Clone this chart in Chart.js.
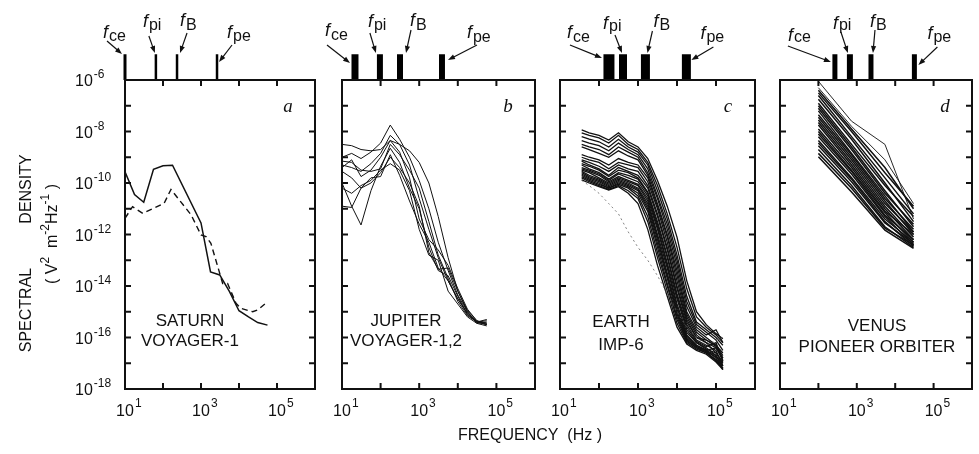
<!DOCTYPE html>
<html><head><meta charset="utf-8">
<script src="https://cdn.jsdelivr.net/npm/chart.js@4.4.1/dist/chart.umd.min.js"></script>
<style>
html,body{margin:0;padding:0;background:#fff;width:979px;height:454px;overflow:hidden}
canvas{position:absolute;left:0;top:0}
</style></head><body>
<canvas id="ca" width="979" height="454"></canvas>
<canvas id="cb" width="979" height="454"></canvas>
<canvas id="cc" width="979" height="454"></canvas>
<canvas id="cd" width="979" height="454"></canvas>
<script>
// ---------------- DATA (densities stored as log10 of V^2 m^-2 Hz^-1) ----------------
const yTickExps = [-17,-16,-15,-14,-13,-12,-11,-10,-9,-8,-7];
const yLabelExps = [-6,-8,-10,-12,-14,-16,-18];
const xTickExps = [2,3,4,5];
const xLabelExps = [1,3,5];
const markerNames = ['ce','pi','B','pe'];

// a: Saturn, Voyager-1
const saturnSolidFreq = [10, 17.8, 31.1, 56.2, 100, 178, 1000, 1780, 3110, 5620, 10000, 17800, 31100, 56200];
const saturnSolid     = [-9.56, -10.45, -10.75, -9.47, -9.33, -9.31, -11.55, -13.45, -13.57, -14.22, -14.96, -15.2, -15.42, -15.52];
const saturnDashFreq  = [10, 15.8, 29.5, 107, 162, 550, 1000, 1350, 1820, 3720, 5010, 8320, 11200, 22900, 30900, 47900];
const saturnDashed    = [-11.37, -10.92, -11.18, -10.79, -10.25, -11.24, -12.02, -12.08, -12.34, -13.9, -13.9, -14.67, -14.87, -15.0, -14.93, -14.7];
const saturnMarkers   = [10, 65, 234, 2640];

// b: Jupiter, Voyager-1,2
const voyagerFreq = [10, 17.8, 31.1, 56.2, 100, 178, 311, 562, 1000, 1780, 3110, 5620, 10000, 17800, 31100, 56200];
const jupiterSpectra = [
 [-8.5, -8.55, -8.7, -8.75, -8.7, -8.35, -8.5, -8.75, -9.2, -10.0, -11.3, -12.9, -14.2, -14.95, -15.35, -15.45],
 [-9.0, -8.85, -9.05, -8.8, -8.45, -7.75, -8.3, -9.0, -9.9, -11.0, -12.3, -13.4, -14.35, -15.0, -15.4, -15.5],
 [-9.3, -9.4, -9.55, -9.25, -8.85, -8.15, -8.5, -9.3, -10.6, -11.8, -12.9, -13.8, -14.5, -15.05, -15.4, -15.35],
 [-9.4, -9.1, -9.75, -9.5, -9.0, -8.35, -8.8, -9.8, -11.4, -12.2, -12.6, -13.2, -14.1, -14.9, -15.35, -15.5],
 [-10.0, -10.9, -11.63, -10.3, -9.35, -8.65, -9.2, -10.2, -11.0, -12.5, -13.4, -13.6, -14.4, -15.1, -15.4, -15.45],
 [-9.55, -9.8, -10.2, -10.0, -9.6, -9.0, -9.4, -10.0, -10.9, -12.7, -13.35, -13.3, -14.2, -15.0, -15.45, -15.4],
 [-10.2, -10.4, -10.1, -9.9, -9.5, -9.25, -9.5, -10.3, -11.8, -12.8, -13.0, -14.2, -14.7, -15.2, -15.45, -15.55],
 [-10.9, -10.95, -10.2, -9.8, -9.75, -8.9, -9.7, -10.7, -11.6, -12.3, -13.3, -13.8, -14.5, -15.1, -15.4, -15.3],
 [-9.15, -9.2, -9.5, -9.55, -9.45, -8.5, -8.9, -9.5, -10.2, -11.5, -12.8, -13.7, -14.6, -15.15, -15.4, -15.5]
];
const jupiterMarkers = [21.7, 96, 318, 3890];

// c: Earth, IMP-6
const earthFreq = [36, 56, 100, 178, 316, 562, 1000, 1780, 3160, 5620, 10000, 17800, 31600, 56200, 100000, 150000];
const earthSpectra = [
 [-7.94,-8.05,-8.15,-8.33,-8.05,-8.4,-8.6,-9.05,-9.9,-10.9,-12.1,-13.8,-15.0,-15.5,-15.85,-16.05],
 [-8.05,-8.15,-8.25,-8.45,-8.15,-8.5,-8.7,-9.2,-10.1,-11.2,-12.5,-14.1,-15.2,-15.6,-15.9,-16.2],
 [-8.2,-8.3,-8.4,-8.6,-8.3,-8.6,-8.8,-9.3,-10.3,-11.4,-12.8,-14.4,-15.4,-15.7,-16.0,-16.3],
 [-8.35,-8.45,-8.55,-8.75,-8.45,-8.7,-8.9,-9.45,-10.5,-11.6,-13.0,-14.6,-15.5,-15.8,-16.1,-16.5],
 [-8.5,-8.6,-8.7,-8.9,-8.6,-8.8,-9.0,-9.6,-10.6,-11.8,-13.2,-14.8,-15.6,-15.9,-15.7,-16.2],
 [-8.6,-8.7,-8.85,-9.0,-8.75,-8.95,-9.1,-9.7,-10.8,-12.0,-13.4,-15.0,-15.7,-16.0,-16.3,-16.6],
 [-8.9,-9.0,-9.1,-9.3,-9.05,-9.2,-9.3,-9.8,-10.9,-12.1,-13.6,-15.1,-15.8,-16.1,-16.3,-16.7],
 [-9.0,-9.1,-9.2,-9.45,-9.2,-9.3,-9.4,-9.95,-11.0,-12.3,-13.8,-15.2,-15.9,-16.2,-16.4,-16.9],
 [-9.1,-9.2,-9.35,-9.55,-9.3,-9.45,-9.55,-10.1,-11.2,-12.5,-14.0,-15.3,-16.0,-16.1,-16.35,-16.8],
 [-9.15,-9.3,-9.45,-9.7,-9.4,-9.55,-9.7,-10.2,-11.3,-12.6,-14.1,-15.4,-16.0,-16.2,-16.6,-17.0],
 [-9.25,-9.35,-9.5,-9.75,-9.5,-9.6,-9.8,-10.35,-11.5,-12.8,-14.3,-15.5,-16.1,-16.3,-16.5,-17.1],
 [-9.3,-9.45,-9.6,-9.85,-9.6,-9.7,-9.85,-10.4,-11.6,-12.9,-14.4,-15.6,-16.15,-16.35,-16.2,-16.9],
 [-9.4,-9.5,-9.65,-9.9,-9.65,-9.8,-9.95,-10.5,-11.7,-13.1,-14.5,-15.7,-16.2,-16.4,-16.7,-17.2],
 [-9.45,-9.55,-9.7,-9.95,-9.75,-9.9,-10.05,-10.6,-11.8,-13.2,-14.7,-15.8,-16.2,-16.45,-16.6,-16.95],
 [-9.5,-9.6,-9.8,-10.0,-9.8,-9.95,-10.1,-10.7,-12.0,-13.3,-14.8,-15.9,-16.3,-16.5,-16.8,-17.25],
 [-9.55,-9.7,-9.85,-10.05,-9.85,-10.0,-10.2,-10.8,-12.1,-13.5,-14.9,-15.95,-16.3,-16.5,-16.7,-17.1],
 [-9.6,-9.75,-9.9,-10.1,-9.9,-10.05,-10.25,-10.9,-12.2,-13.6,-15.0,-16.0,-16.35,-16.55,-16.9,-17.2],
 [-9.65,-9.8,-9.95,-10.15,-9.95,-10.1,-10.3,-11.0,-12.35,-13.7,-15.1,-16.05,-16.35,-16.5,-16.4,-16.8],
 [-9.7,-9.85,-10.0,-10.2,-10.0,-10.15,-10.4,-11.1,-12.5,-13.9,-15.2,-16.1,-16.4,-16.55,-16.75,-17.0],
 [-9.75,-9.9,-10.05,-10.2,-10.05,-10.2,-10.5,-11.3,-12.7,-14.0,-15.3,-16.15,-16.4,-16.6,-16.9,-17.2],
 [-9.8,-9.95,-10.1,-10.25,-10.1,-10.3,-10.6,-11.5,-12.9,-14.2,-15.45,-16.2,-16.45,-16.6,-16.85,-17.1],
 [-9.88,-10.0,-10.14,-10.27,-10.14,-10.4,-10.8,-11.8,-13.2,-14.4,-15.6,-16.25,-16.5,-16.65,-16.95,-17.25]
];
const earthFaint = [
 [null,-7.65,-7.8,-8.0,-7.95,-8.3,-8.5,-9.0,-9.8,-10.7,-11.9,-13.5,-14.9,-15.4,-15.3,-15.9],
 [-9.9,-10.1,-10.4,-10.8,-11.2,-11.9,-12.5,-13.0,-13.6,-14.3,-15.0,-15.6,-16.0,-16.3,-16.1,-16.0]
];
const earthMarkers = [180, 412, 1550, 17400];

// d: Venus, Pioneer Venus Orbiter
const venusFreq = [100, 730, 5400, 30000];
const venusSpectra = [
 [-6.4, -7.9, -9.4, -11.0], [-6.5, -8.0, -9.6, -10.9], [-6.6, -8.2, -9.8, -11.2],
 [-6.75, -8.3, -10.0, -11.5], [-6.9, -8.5, -10.1, -11.3], [-7.0, -8.6, -10.3, -11.7],
 [-7.1, -8.7, -10.4, -11.6], [-7.2, -8.85, -10.5, -11.9], [-7.35, -8.9, -10.6, -11.8],
 [-7.45, -9.0, -10.7, -12.0], [-7.55, -9.1, -10.8, -11.9], [-7.65, -9.2, -10.9, -12.1],
 [-7.75, -9.3, -11.0, -12.2], [-7.9, -9.4, -11.1, -12.0], [-8.0, -9.5, -11.15, -12.3],
 [-8.1, -9.55, -11.25, -12.2], [-8.2, -9.65, -11.3, -12.4], [-8.35, -9.8, -11.4, -12.3],
 [-8.45, -9.85, -11.5, -12.45], [-8.55, -9.95, -11.55, -12.35], [-8.7, -10.1, -11.7, -12.5],
 [-8.85, -10.2, -11.75, -12.4], [-8.98, -10.35, -11.83, -12.54]
];
const venusThin = [[-6.05, -7.6, -8.5, -11.4], [-6.3, -7.8, -9.1, -10.8]];
const venusMarkers = [269, 661, 2340, 31600];

// ---------------- DRAWING ----------------
const INK = '#111';
const SANS = "'Liberation Sans', Arial, Helvetica, sans-serif";
const SERIF = "'Liberation Serif', 'Times New Roman', serif";

function pts(freqs, logs) {
  return logs.map((v, i) => v === null ? null : { x: freqs[i], y: Math.pow(10, v) });
}
function lineDs(data, w, extra) {
  return Object.assign({ data, borderColor: INK, borderWidth: w, pointRadius: 0, fill: false, tension: 0, spanGaps: false }, extra || {});
}
function markerDs(freqs, widths) {
  return freqs.map((f, i) => ({
    data: [{ x: f, y: 1e-6 }, { x: f, y: 1e-5 }],
    borderColor: '#000', borderWidth: widths[i], borderCapStyle: 'butt', pointRadius: 0, clip: false, fill: false
  }));
}
function arrow(ctx, x0, y0, x1, y1) {
  const ang = Math.atan2(y1 - y0, x1 - x0), L = 7, W = 2.6, c = Math.cos(ang), s = Math.sin(ang);
  ctx.lineWidth = 1.2;
  ctx.beginPath(); ctx.moveTo(x0, y0); ctx.lineTo(x1 - c * L * 0.7, y1 - s * L * 0.7); ctx.stroke();
  ctx.beginPath(); ctx.moveTo(x1, y1);
  ctx.lineTo(x1 - L * c + W * s, y1 - L * s - W * c);
  ctx.lineTo(x1 - L * c - W * s, y1 - L * s + W * c);
  ctx.closePath(); ctx.fill();
}

const decorPlugin = {
  id: 'decor',
  afterDraw(chart, args, o) {
    const ctx = chart.ctx, a = chart.chartArea, xs = chart.scales.x, ys = chart.scales.y;
    ctx.save();
    ctx.strokeStyle = INK; ctx.fillStyle = INK; ctx.lineCap = 'butt';
    ctx.lineWidth = 2;
    ctx.strokeRect(a.left, a.top, a.right - a.left, a.bottom - a.top);
    ctx.beginPath();
    yTickExps.forEach(e => {
      const p = ys.getPixelForValue(Math.pow(10, e));
      ctx.moveTo(a.left, p); ctx.lineTo(a.left + 6, p);
      ctx.moveTo(a.right, p); ctx.lineTo(a.right - 6, p);
    });
    xTickExps.forEach(e => {
      const p = xs.getPixelForValue(Math.pow(10, e));
      ctx.moveTo(p, a.top); ctx.lineTo(p, a.top + 6);
      ctx.moveTo(p, a.bottom); ctx.lineTo(p, a.bottom - 6);
    });
    ctx.stroke();
    // x tick labels
    xLabelExps.forEach(e => {
      const p = xs.getPixelForValue(Math.pow(10, e));
      ctx.font = '16px ' + SANS; ctx.textBaseline = 'middle'; ctx.textAlign = 'center';
      ctx.fillText('10', p, a.bottom + 23);
      const w = ctx.measureText('10').width;
      ctx.font = '12px ' + SANS; ctx.textAlign = 'left';
      ctx.fillText(String(e), p + w / 2 + 1, a.bottom + 15);
    });
    // y tick labels
    if (o.yLabels) {
      yLabelExps.forEach(e => {
        const p = ys.getPixelForValue(Math.pow(10, e));
        ctx.font = '16px ' + SANS; ctx.textBaseline = 'middle'; ctx.textAlign = 'left';
        ctx.fillText('10', 75, p + 2);
        const w = ctx.measureText('10').width;
        ctx.font = '12px ' + SANS;
        ctx.fillText(String(e), 75 + w + 1, p - 5);
      });
    }
    // panel letter
    ctx.font = 'italic 19px ' + SERIF; ctx.textAlign = 'center'; ctx.textBaseline = 'middle';
    ctx.fillText(o.letter, a.right - 27, a.top + 27);
    // panel name
    ctx.font = '17px ' + SANS;
    o.name.forEach((line, i) => ctx.fillText(line, a.left + o.nameDx, o.nameY[i]));
    // marker labels and arrows
    o.markerFreq.forEach((f, i) => {
      const bx = xs.getPixelForValue(f), L = o.layout[i];
      ctx.textAlign = 'left'; ctx.textBaseline = 'alphabetic';
      ctx.font = 'italic 18px ' + SANS;
      ctx.fillText('f', bx + L.fdx, L.fy);
      ctx.font = '16px ' + SANS;
      ctx.fillText(markerNames[i], bx + L.fdx + 6, L.sy);
      arrow(ctx, bx + L.a[0], L.a[1], bx + L.a[2], L.a[3]);
    });
    // axis titles (drawn once)
    if (o.titles) {
      ctx.font = '16px ' + SANS; ctx.textAlign = 'center'; ctx.textBaseline = 'middle';
      ctx.fillText('FREQUENCY  (Hz )', 530, 436);
      ctx.save(); ctx.translate(27, 0); ctx.rotate(-Math.PI / 2);
      ctx.fillText('SPECTRAL', -310, 0);
      ctx.fillText('DENSITY', -189, 0);
      ctx.restore();
      ctx.save(); ctx.translate(53, 234); ctx.rotate(-Math.PI / 2);
      const parts = [['( V', 0], ['2', 1], ['  m', 0], ['-2', 1], ['Hz', 0], ['-1', 1], [' )', 0]];
      let total = 0;
      parts.forEach(p => { ctx.font = (p[1] ? '12px ' : '16px ') + SANS; total += ctx.measureText(p[0]).width; });
      let u = -total / 2;
      ctx.textAlign = 'left';
      parts.forEach(p => {
        ctx.font = (p[1] ? '12px ' : '16px ') + SANS;
        ctx.fillText(p[0], u, p[1] ? -7 : 0);
        u += ctx.measureText(p[0]).width;
      });
      ctx.restore();
    }
    ctx.restore();
  }
};

function makePanel(id, box, datasets, decor) {
  new Chart(document.getElementById(id), {
    type: 'line',
    data: { datasets },
    options: {
      responsive: false, animation: false, devicePixelRatio: 1, events: [],
      layout: { padding: { left: box.l, top: box.t, right: 979 - box.r, bottom: 454 - box.b } },
      plugins: { legend: { display: false }, tooltip: { enabled: false }, decor },
      scales: {
        x: { type: 'logarithmic', min: 10, max: 1e6, display: false },
        y: { type: 'logarithmic', min: 1e-18, max: 1e-6, display: false }
      }
    },
    plugins: [decorPlugin]
  });
}

// Panel a
makePanel('ca', { l: 125, t: 80, r: 315, b: 389 }, [
  lineDs(pts(saturnSolidFreq, saturnSolid), 1.5),
  lineDs(pts(saturnDashFreq, saturnDashed), 1.4, { borderDash: [6, 4] }),
  ...markerDs(saturnMarkers, [3, 2.5, 2.5, 2.5])
], {
  letter: 'a', name: ['SATURN', 'VOYAGER-1'], nameDx: 65, nameY: [321, 341], yLabels: true, titles: true,
  markerFreq: saturnMarkers,
  layout: [
    { fdx: -22, fy: 38, sy: 41, a: [-18, 41, -3, 54] },
    { fdx: -13, fy: 27, sy: 30, a: [-7, 36, -1, 53] },
    { fdx: 3, fy: 26, sy: 30, a: [10, 33, 3, 53] },
    { fdx: 10, fy: 38, sy: 41, a: [15, 45, 2, 62] }
  ]
});

// Panel b
makePanel('cb', { l: 342, t: 80, r: 535, b: 389 }, [
  ...jupiterSpectra.map(s => lineDs(pts(voyagerFreq, s), 1.0)),
  ...markerDs(jupiterMarkers, [7, 6, 6, 6])
], {
  letter: 'b', name: ['JUPITER', 'VOYAGER-1,2'], nameDx: 64, nameY: [321, 341],
  markerFreq: jupiterMarkers,
  layout: [
    { fdx: -30, fy: 36, sy: 40, a: [-28, 45, -5, 63] },
    { fdx: -12, fy: 27, sy: 30, a: [-10, 33, -4, 53] },
    { fdx: 10, fy: 26, sy: 30, a: [11, 30, 6, 53] },
    { fdx: 25, fy: 38, sy: 42, a: [35, 45, 6, 60] }
  ]
});

// Panel c
makePanel('cc', { l: 560, t: 80, r: 755, b: 389 }, [
  ...earthFaint.map(s => lineDs(pts(earthFreq, s), 0.8, { borderColor: '#666', borderDash: [2, 3] })),
  ...earthSpectra.map(s => lineDs(pts(earthFreq, s), 1.3)),
  ...markerDs(earthMarkers, [11, 8, 9, 9])
], {
  letter: 'c', name: ['EARTH', 'IMP-6'], nameDx: 61, nameY: [322, 345],
  markerFreq: earthMarkers,
  layout: [
    { fdx: -42, fy: 38, sy: 42, a: [-39, 45, -7, 58] },
    { fdx: -20, fy: 29, sy: 31, a: [-8, 35, -1, 53] },
    { fdx: 8, fy: 27, sy: 30, a: [7, 31, 2, 53] },
    { fdx: 14, fy: 39, sy: 42, a: [27, 47, 5, 60] }
  ]
});

// Panel d
makePanel('cd', { l: 780, t: 80, r: 972, b: 389 }, [
  ...venusThin.map(s => lineDs(pts(venusFreq, s), 0.9)),
  ...venusSpectra.map(s => lineDs(pts(venusFreq, s), 1.5)),
  ...markerDs(venusMarkers, [5, 6, 5, 5])
], {
  letter: 'd', name: ['VENUS', 'PIONEER ORBITER'], nameDx: 97, nameY: [326, 347],
  markerFreq: venusMarkers,
  layout: [
    { fdx: -47, fy: 41, sy: 42, a: [-47, 46, -4, 62] },
    { fdx: -17, fy: 29, sy: 30, a: [-9, 32, -2, 53] },
    { fdx: -1, fy: 27, sy: 30, a: [4, 30, 2, 53] },
    { fdx: 13, fy: 39, sy: 42, a: [23, 47, 4, 65] }
  ]
});
</script>
</body></html>
